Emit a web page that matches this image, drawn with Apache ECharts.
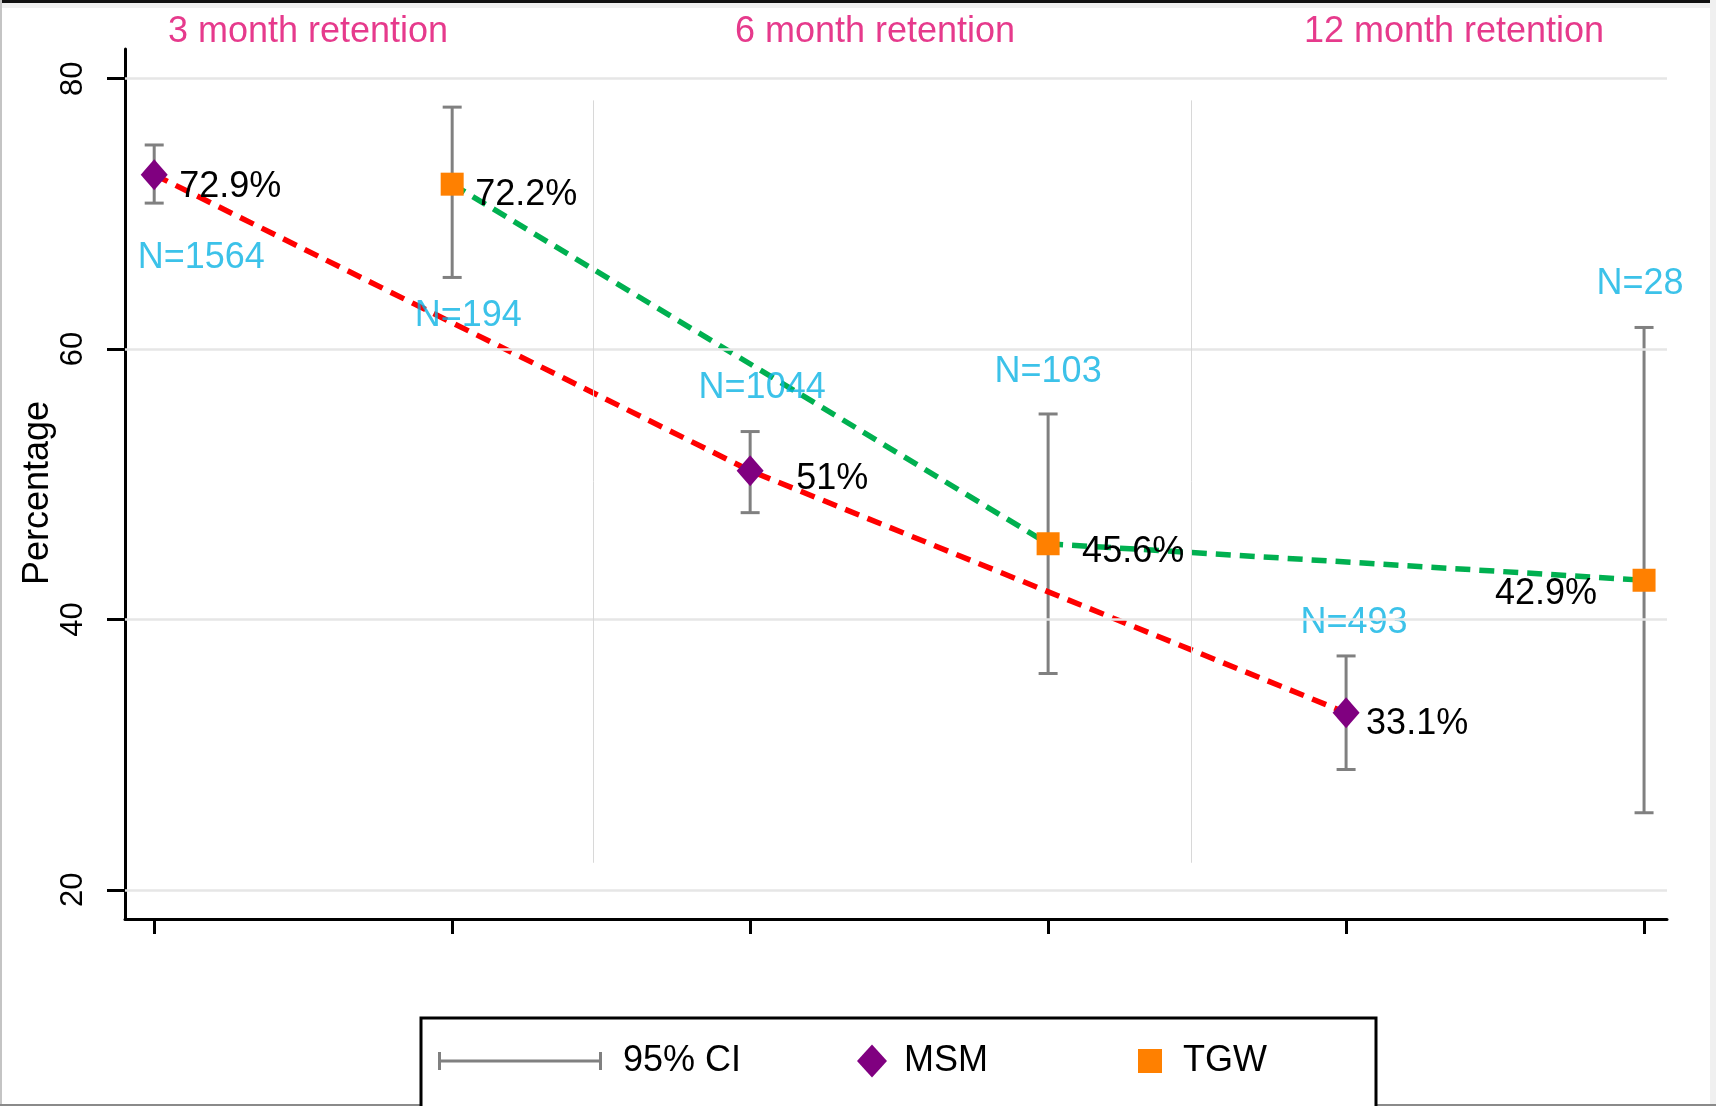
<!DOCTYPE html>
<html><head><meta charset="utf-8">
<script src="https://cdn.jsdelivr.net/npm/echarts@6/dist/echarts.min.js"></script>
<style>html,body{margin:0;padding:0;background:#fff}#c{width:1716px;height:1106px}</style>
</head><body><div id="c"></div>
<script>
// ---- data ----
const xPositions = [1, 2, 3, 4, 5, 6];
const groupTitles = ['3 month retention', '6 month retention', '12 month retention'];
const msmX = [1, 3, 5];
const msmValues = [72.9, 51, 33.1];
const msmLabels = ['72.9%', '51%', '33.1%'];
const msmN = ['N=1564', 'N=1044', 'N=493'];
const tgwX = [2, 4, 6];
const tgwValues = [72.2, 45.6, 42.9];
const tgwLabels = ['72.2%', '45.6%', '42.9%'];
const tgwN = ['N=194', 'N=103', 'N=28'];
const ciX = [1, 2, 3, 4, 5, 6];
const ciLow = [70.8, 65.3, 47.9, 36.0, 28.9, 25.7];
const ciHigh = [75.1, 77.9, 53.9, 55.2, 37.3, 61.6];
const yTicks = [20, 40, 60, 80];
const separatorsX = [2.475, 4.48];
const separatorRange = [22.0, 78.4];

// ---- layout (pixels) ----
const FONT = 'Liberation Sans, Arial, sans-serif';
const msmLabelOffsets = [[25, 12], [46, 8], [20, 11]];
const tgwLabelOffsets = [[23, 11], [34, 8], [-47, 14]];
const tgwLabelAlign = ['left', 'left', 'right'];
const msmNOffsets = [[47, 83], [12, -83], [8, -90]];
const tgwNOffsets = [[16, 132], [0, -172], [-4, -296]];
const titleCenters = [308, 875, 1454];

const chart = echarts.init(document.getElementById('c'));

const ciData = ciX.map((x, i) => [x, ciLow[i], ciHigh[i]]);
const msmData = msmX.map((x, i) => ({
  value: [x, msmValues[i]],
  label: { offset: msmLabelOffsets[i], align: 'left' }
}));
const tgwData = tgwX.map((x, i) => ({
  value: [x, tgwValues[i]],
  label: { offset: tgwLabelOffsets[i], align: tgwLabelAlign[i] }
}));
const nData = msmX.map((x, i) => ({ value: [x, msmValues[i]], txt: msmN[i], label: { offset: msmNOffsets[i] } }))
  .concat(tgwX.map((x, i) => ({ value: [x, tgwValues[i]], txt: tgwN[i], label: { offset: tgwNOffsets[i] } })));

const gridLines = yTicks.map(v => ({ yAxis: v, lineStyle: { color: '#E6E6E6', width: 2.5, type: 'solid' } }));
const sepLines = separatorsX.map(x => [
  { coord: [x, separatorRange[0]], lineStyle: { color: '#D8D8D8', width: 1, type: 'solid' } },
  { coord: [x, separatorRange[1]] }
]);

const option = {
  animation: false,
  backgroundColor: '#fff',
  textStyle: { fontFamily: FONT },
  grid: { left: 125, right: 49, top: 49, bottom: 187, containLabel: false },
  xAxis: {
    type: 'value', min: 0.902, max: 6.077,
    axisLine: { show: true, onZero: false, lineStyle: { color: '#000', width: 3 } },
    axisTick: { show: true, length: 15, customValues: xPositions, lineStyle: { color: '#000', width: 3 } },
    axisLabel: { show: false, customValues: xPositions },
    splitLine: { show: false }
  },
  yAxis: {
    type: 'value', min: 17.84, max: 82.2,
    axisLine: { show: true, onZero: false, lineStyle: { color: '#000', width: 3 } },
    axisTick: { show: true, length: 18, customValues: yTicks, lineStyle: { color: '#000', width: 3 } },
    axisLabel: { customValues: yTicks, rotate: 90, fontSize: 31, color: '#000', margin: 36, fontFamily: FONT },
    splitLine: { show: false },
    name: 'Percentage', nameLocation: 'middle', nameRotate: 90, nameGap: 69, nameMoveOverlap: false,
    nameTextStyle: { fontSize: 36, color: '#000', fontFamily: FONT, padding: [0, 18, 0, 0] }
  },
  legend: [
    {
      data: [{ name: '95% CI', icon: 'path://M0,0H3V7.5H161V0H164V18H161V10.5H3V18H0Z', itemStyle: { color: '#808080' } }],
      left: 438, top: 1043, itemWidth: 164, itemHeight: 18, padding: 0, selectedMode: false, z: 5,
      textStyle: { fontSize: 36, lineHeight: 36, color: '#000', fontFamily: FONT, padding: [0, 0, 0, 16] }
    },
    {
      data: [{ name: 'MSM', icon: 'diamond', itemStyle: { color: '#800080' } }],
      left: 857, top: 1043, itemWidth: 30, itemHeight: 33, padding: 0, selectedMode: false, z: 5,
      textStyle: { fontSize: 36, lineHeight: 36, color: '#000', fontFamily: FONT, padding: [0, 0, 0, 12] }
    },
    {
      data: [{ name: 'TGW', icon: 'rect', itemStyle: { color: '#FF8000' } }],
      left: 1138, top: 1043, itemWidth: 24, itemHeight: 24, padding: 0, selectedMode: false, z: 5,
      textStyle: { fontSize: 36, lineHeight: 36, color: '#000', fontFamily: FONT, padding: [0, 0, 0, 16] }
    }
  ],
  graphic: [
    { type: 'rect', shape: { x: 0, y: 0, width: 1716, height: 8 }, style: { fill: '#F0F0F0' }, z: 0 },
    { type: 'rect', shape: { x: 0, y: 0, width: 1716, height: 3 }, style: { fill: '#111' }, z: 0 },
    { type: 'rect', shape: { x: 1710, y: 0, width: 6, height: 1106 }, style: { fill: '#F0F0F0' }, z: 0 },
    { type: 'rect', shape: { x: 0, y: 0, width: 2, height: 1106 }, style: { fill: '#C4C4C4' }, z: 0 },
    { type: 'rect', shape: { x: 0, y: 1104, width: 1716, height: 2 }, style: { fill: '#8A8A8A' }, z: 0 },
    { type: 'rect', shape: { x: 421, y: 1018, width: 955, height: 120 }, style: { fill: '#fff', stroke: '#000', lineWidth: 3 }, z: 1 }
  ].concat(groupTitles.map((t, i) => ({
    type: 'text', x: titleCenters[i], y: 32, z: 5,
    style: { text: t, fill: '#E63A8C', font: '36px ' + FONT, textAlign: 'center', textVerticalAlign: 'middle' }
  }))),
  series: [
    {
      name: 'gridlines', type: 'scatter', data: [], z: 0, silent: true,
      markLine: { silent: true, symbol: 'none', label: { show: false }, animation: false, data: gridLines.concat(sepLines) }
    },
    {
      name: '95% CI', type: 'custom', z: 1, data: ciData, encode: { x: 0, y: [1, 2] },
      itemStyle: { color: '#808080' },
      renderItem: function (params, api) {
        const x = api.value(0), lo = api.value(1), hi = api.value(2);
        const p1 = api.coord([x, hi]), p2 = api.coord([x, lo]);
        const w = 9.5;
        const style = { stroke: '#808080', lineWidth: 3 };
        return {
          type: 'group', children: [
            { type: 'line', shape: { x1: p1[0], y1: p1[1], x2: p2[0], y2: p2[1] }, style },
            { type: 'line', shape: { x1: p1[0] - w, y1: p1[1], x2: p1[0] + w, y2: p1[1] }, style },
            { type: 'line', shape: { x1: p2[0] - w, y1: p2[1], x2: p2[0] + w, y2: p2[1] }, style }
          ]
        };
      }
    },
    {
      name: 'MSM', type: 'line', z: 3, data: msmData,
      symbol: 'diamond', symbolSize: [27, 31],
      itemStyle: { color: '#800080' },
      lineStyle: { color: '#FF0000', width: 5.5, type: [15, 9] },
      label: {
        show: true, position: 'inside', verticalAlign: 'middle', fontSize: 36, color: '#000', fontFamily: FONT,
        formatter: p => msmLabels[p.dataIndex]
      }
    },
    {
      name: 'TGW', type: 'line', z: 3, data: tgwData,
      symbol: 'rect', symbolSize: 23,
      itemStyle: { color: '#FF8000' },
      lineStyle: { color: '#00B050', width: 5.5, type: [15, 9] },
      label: {
        show: true, position: 'inside', verticalAlign: 'middle', fontSize: 36, color: '#000', fontFamily: FONT,
        formatter: p => tgwLabels[p.dataIndex]
      }
    },
    {
      name: 'Nlabels', type: 'scatter', z: 4, data: nData, symbolSize: 1,
      itemStyle: { color: 'rgba(0,0,0,0)' }, silent: true,
      label: {
        show: true, position: 'inside', align: 'center', verticalAlign: 'middle',
        fontSize: 36, color: '#0BB3E3', fontFamily: FONT,
        formatter: p => p.data.txt
      }
    }
  ]
};
chart.setOption(option);
</script>
</body></html>
